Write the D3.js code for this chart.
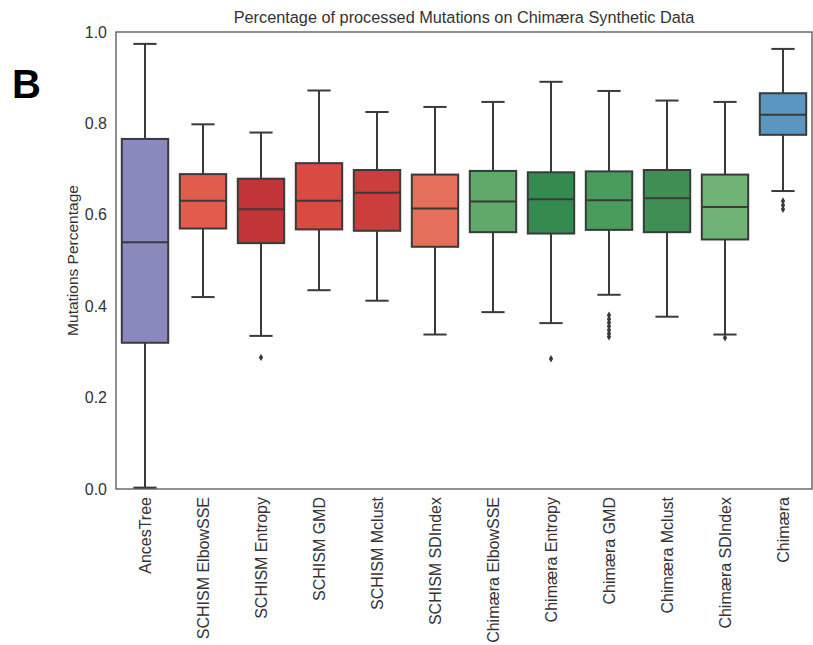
<!DOCTYPE html>
<html><head><meta charset="utf-8">
<script src="https://cdn.jsdelivr.net/npm/d3@7"></script>
<style>body{margin:0;background:#fff;}svg{display:block;font-family:"Liberation Sans",Arial,sans-serif;}</style>
</head><body><div id="chart"></div>
<script>
const categories = ["AncesTree","SCHISM ElbowSSE","SCHISM Entropy","SCHISM GMD","SCHISM Mclust","SCHISM SDIndex","Chimæra ElbowSSE","Chimæra Entropy","Chimæra GMD","Chimæra Mclust","Chimæra SDIndex","Chimæra"];
const whiskerLow  = [0.003,0.420,0.335,0.435,0.412,0.338,0.387,0.363,0.425,0.377,0.338,0.652];
const q1          = [0.320,0.570,0.538,0.568,0.565,0.530,0.562,0.559,0.567,0.562,0.546,0.775];
const median      = [0.540,0.631,0.612,0.631,0.648,0.614,0.629,0.634,0.632,0.636,0.617,0.819];
const q3          = [0.766,0.689,0.679,0.713,0.698,0.688,0.696,0.693,0.695,0.698,0.688,0.866];
const whiskerHigh = [0.974,0.798,0.780,0.872,0.825,0.836,0.847,0.891,0.871,0.850,0.847,0.963];
const outliers    = [[],[],[0.288],[],[],[],[],[0.285],[0.380,0.372,0.364,0.356,0.348,0.340,0.333],[],[0.331],[0.630,0.621,0.612]];
const colors      = ["#8a89bd","#e05d4d","#c13536","#d94a40","#cb3e3b","#e4705b","#5faa6b","#358a4f","#4a9c5c","#3f8f55","#6fb375","#5a96bf"];
const yTicks      = [0,0.2,0.4,0.6,0.8,1.0];

const W=813,H=645, L=116, R=812, T=32, B=489;
const svg=d3.select("#chart").append("svg").attr("width",W).attr("height",H);
const x=d3.scaleBand().domain(categories).range([L,R]).paddingInner(0).paddingOuter(0);
const y=d3.scaleLinear().domain([0,1]).range([B,T]);
const bw=x.bandwidth()*0.8;
const stroke="#3a3a3a";

// title
svg.append("text").attr("x",(L+R)/2).attr("y",23).attr("text-anchor","middle")
  .attr("font-size",16.3).attr("fill","#333").text("Percentage of processed Mutations on Chimæra Synthetic Data");
// panel letter
svg.append("text").attr("x",12).attr("y",98).attr("font-size",40).attr("font-weight","bold")
  .attr("fill","#000").text("B");
// y label
svg.append("text").attr("transform",`translate(78,${(T+B)/2}) rotate(-90)`).attr("text-anchor","middle")
  .attr("font-size",15.5).attr("fill","#333").text("Mutations Percentage");

// axes
const yAxis=d3.axisLeft(y).tickValues(yTicks).tickFormat(d3.format(".1f")).tickSize(0).tickPadding(9);
const gy=svg.append("g").attr("transform",`translate(${L},0)`).call(yAxis);
gy.select(".domain").remove();
gy.selectAll("text").attr("font-size",16).attr("fill","#333").attr("font-family","Liberation Sans, Arial, sans-serif");
const xAxis=d3.axisBottom(x).tickSize(0).tickPadding(8);
const gx=svg.append("g").attr("transform",`translate(0,${B})`).call(xAxis);
gx.select(".domain").remove();
gx.selectAll("text").attr("font-size",16).attr("fill","#333").attr("font-family","Liberation Sans, Arial, sans-serif")
  .attr("text-anchor","end").attr("transform","rotate(-90)").attr("dy","0.35em").attr("x",-8).attr("y",0);

// frame
svg.append("rect").attr("x",L).attr("y",T).attr("width",R-L).attr("height",B-T)
  .attr("fill","none").attr("stroke","#555").attr("stroke-width",1.3);

// boxes
const g=svg.append("g");
categories.forEach((c,i)=>{
  const cx=x(c)+x.bandwidth()/2;
  const capW=bw*0.5;
  const grp=g.append("g");
  grp.append("line").attr("x1",cx).attr("x2",cx).attr("y1",y(q3[i])).attr("y2",y(whiskerHigh[i])).attr("stroke",stroke).attr("stroke-width",2);
  grp.append("line").attr("x1",cx).attr("x2",cx).attr("y1",y(q1[i])).attr("y2",y(whiskerLow[i])).attr("stroke",stroke).attr("stroke-width",2);
  [whiskerHigh[i],whiskerLow[i]].forEach(v=>{
    grp.append("line").attr("x1",cx-capW/2).attr("x2",cx+capW/2).attr("y1",y(v)).attr("y2",y(v)).attr("stroke",stroke).attr("stroke-width",2);
  });
  grp.append("rect").attr("x",cx-bw/2).attr("y",y(q3[i])).attr("width",bw).attr("height",y(q1[i])-y(q3[i]))
    .attr("fill",colors[i]).attr("stroke",stroke).attr("stroke-width",2);
  grp.append("line").attr("x1",cx-bw/2).attr("x2",cx+bw/2).attr("y1",y(median[i])).attr("y2",y(median[i])).attr("stroke",stroke).attr("stroke-width",2);
  outliers[i].forEach(v=>{
    grp.append("path").attr("d",d3.symbol(d3.symbolDiamond,16)()).attr("transform",`translate(${cx},${y(v)})`).attr("fill",stroke);
  });
});
</script></body></html>
